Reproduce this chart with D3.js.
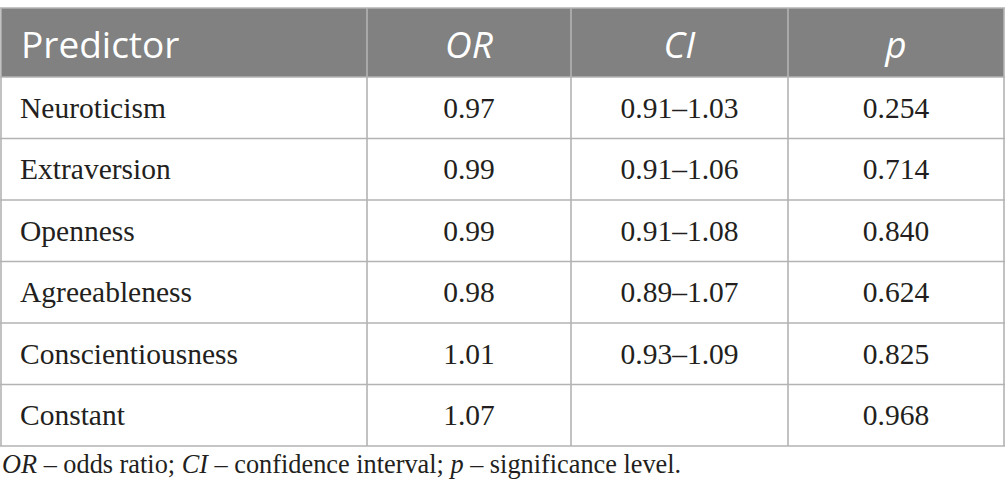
<!DOCTYPE html>
<html>
<head>
<meta charset="utf-8">
<script src="https://cdn.jsdelivr.net/npm/d3@7"></script>
<style>
  body { margin: 0; background: #fff; }
</style>
</head>
<body>
<script>
// table content
const headers = ['Predictor', 'OR', 'CI', 'p'];
const predictors = ['Neuroticism', 'Extraversion', 'Openness', 'Agreeableness', 'Conscientiousness', 'Constant'];
const oddsRatios = ['0.97', '0.99', '0.99', '0.98', '1.01', '1.07'];
const confIntervals = ['0.91\u20131.03', '0.91\u20131.06', '0.91\u20131.08', '0.89\u20131.07', '0.93\u20131.09', ''];
const pValues = ['0.254', '0.714', '0.840', '0.624', '0.825', '0.968'];

const width = 1005;
const height = 502;

const svg = d3.select('body')
    .append('svg')
    .attr('width', width)
    .attr('height', height);

// column edges (left edge of each column, plus right edge of table)
const colEdges = [1, 367, 571, 788, 1004];
const tableTop = 8;
const headerBottom = 77;
const tableBottom = 446;

// rows laid out with a band scale
const y = d3.scaleBand()
    .domain(d3.range(predictors.length))
    .range([headerBottom, tableBottom]);

const lineColor = '#b3b3b3';
const textColor = '#231f20';

// header background
svg.append('rect')
    .attr('x', colEdges[0])
    .attr('y', tableTop)
    .attr('width', colEdges[4] - colEdges[0])
    .attr('height', headerBottom - tableTop)
    .style('fill', '#808180');

// header texts
svg.selectAll('text.head')
    .data(headers)
    .enter()
    .append('text')
    .attr('class', 'head')
    .attr('x', (d, i) => i === 0 ? colEdges[0] + 20 : (colEdges[i] + colEdges[i + 1]) / 2)
    .attr('y', 58)
    .attr('text-anchor', (d, i) => i === 0 ? 'start' : 'middle')
    .style('font-family', '"Open Sans", sans-serif')
    .style('font-size', '37px')
    .style('font-style', (d, i) => i === 0 ? 'normal' : 'italic')
    .style('fill', '#ffffff')
    .text(d => d);

// horizontal rules
const rowLines = [tableTop, headerBottom].concat(predictors.map((d, i) => y(i) + y.bandwidth()));
svg.selectAll('line.h')
    .data(rowLines)
    .enter()
    .append('line')
    .attr('class', 'h')
    .attr('x1', colEdges[0] - 1)
    .attr('x2', colEdges[4] + 1)
    .attr('y1', d => d)
    .attr('y2', d => d)
    .style('stroke', lineColor)
    .style('stroke-width', 1.6);

// vertical rules
svg.selectAll('line.v')
    .data(colEdges)
    .enter()
    .append('line')
    .attr('class', 'v')
    .attr('x1', d => d)
    .attr('x2', d => d)
    .attr('y1', tableTop)
    .attr('y2', tableBottom)
    .style('stroke', lineColor)
    .style('stroke-width', 1.6);

// body cells
const columns = [predictors, oddsRatios, confIntervals, pValues];
columns.forEach(function(col, c) {
    svg.selectAll('text.col' + c)
        .data(col)
        .enter()
        .append('text')
        .attr('class', 'col' + c)
        .attr('x', c === 0 ? colEdges[0] + 19 : (colEdges[c] + colEdges[c + 1]) / 2)
        .attr('y', (d, i) => y(i) + y.bandwidth() / 2 + 10)
        .attr('text-anchor', c === 0 ? 'start' : 'middle')
        .style('font-family', '"Liberation Serif", serif')
        .style('font-size', '29.5px')
        .style('fill', textColor)
        .text(d => d);
});

// footnote
const note = svg.append('text')
    .attr('x', 2)
    .attr('y', 473)
    .style('font-family', '"Liberation Serif", serif')
    .style('font-size', '26.3px')
    .style('fill', textColor);
const noteParts = [['OR', true], [' \u2013 odds ratio; ', false], ['CI', true], [' \u2013 confidence interval; ', false], ['p', true], [' \u2013 significance level.', false]];
note.selectAll('tspan')
    .data(noteParts)
    .enter()
    .append('tspan')
    .style('font-style', d => d[1] ? 'italic' : 'normal')
    .text(d => d[0]);
</script>
</body>
</html>
